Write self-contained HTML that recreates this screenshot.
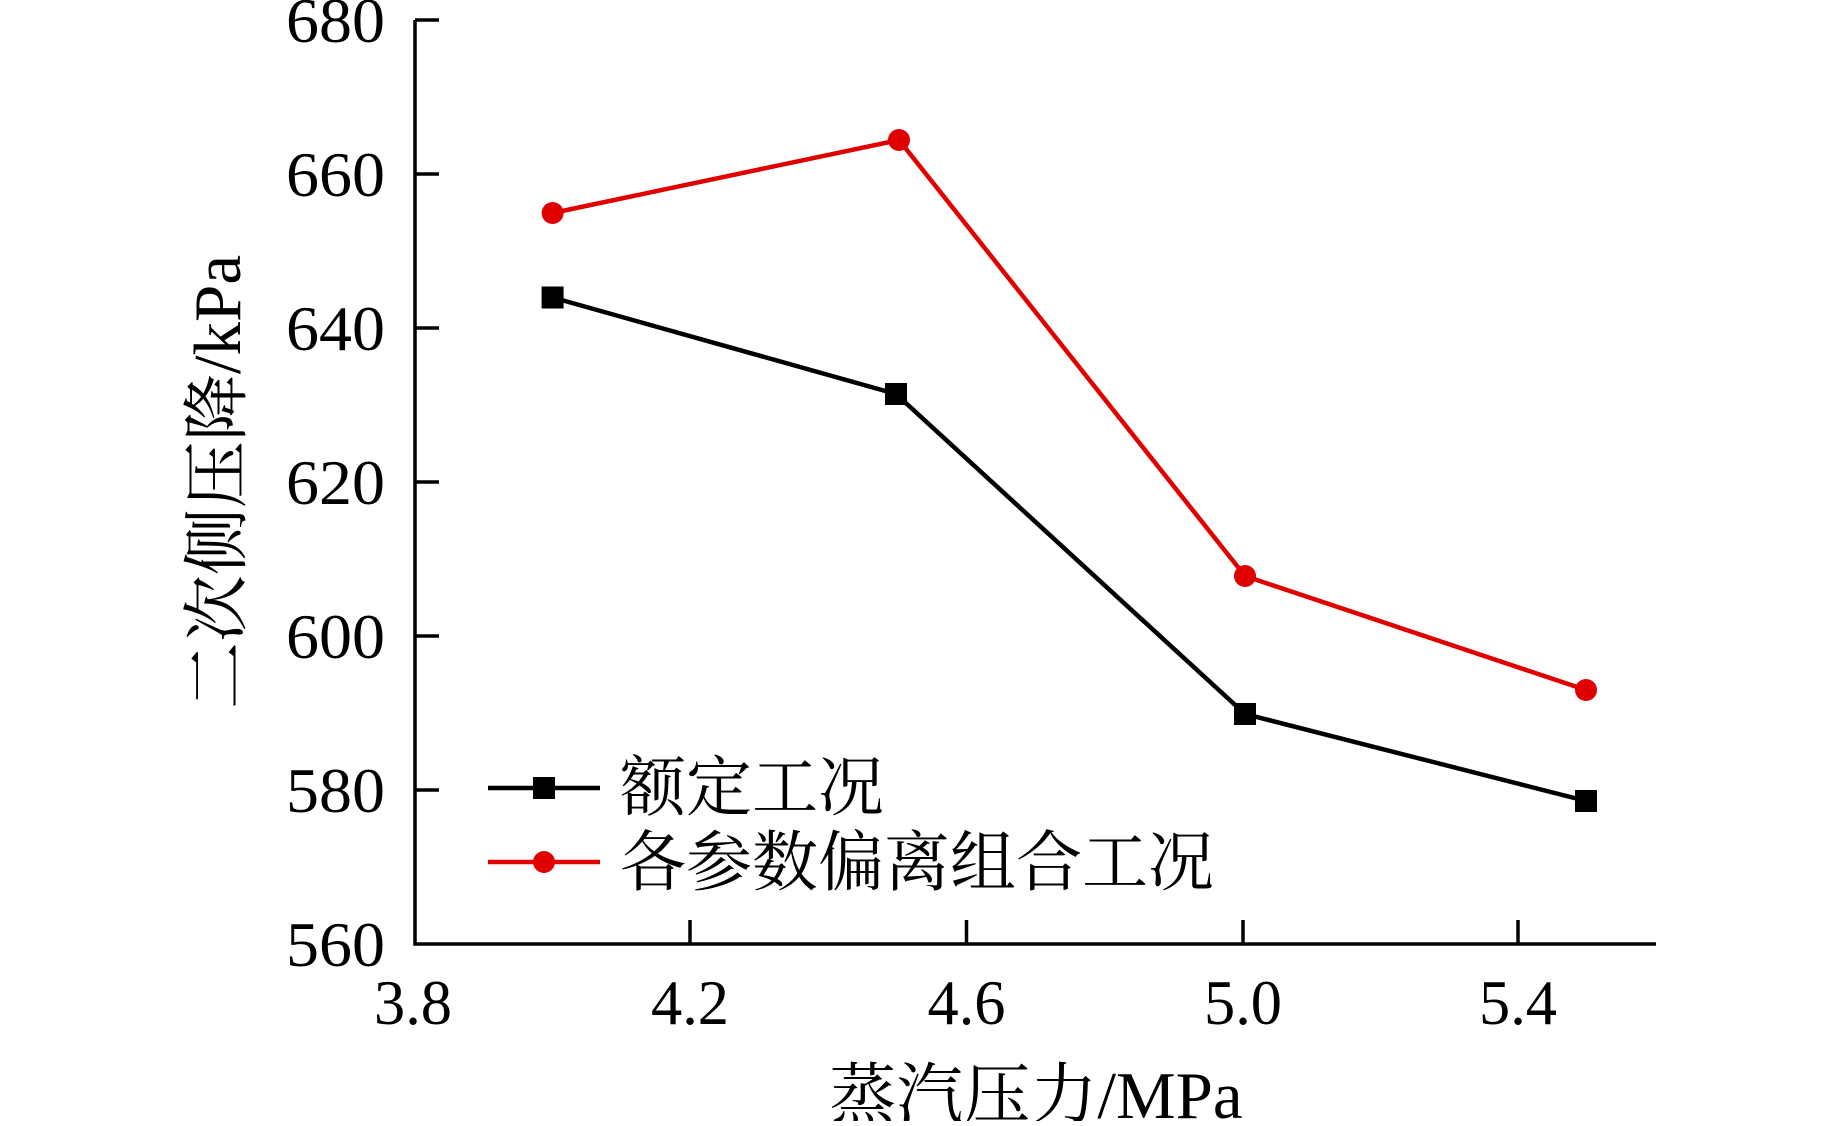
<!DOCTYPE html><html><head><meta charset="utf-8"><style>body{margin:0;background:#fff}svg text{font-family:"Liberation Serif","Noto Serif CJK SC",serif}</style></head><body>
<svg width="1843" height="1121" viewBox="0 0 1843 1121" xmlns="http://www.w3.org/2000/svg">
<g stroke="#000" stroke-width="3.5" fill="none">
<path d="M415 20V944H1656"/>
<path d="M415 20h24M415 174h24M415 328h24M415 482h24M415 636h24M415 790h24"/>
<path d="M690 944v-24M966.5 944v-24M1243 944v-24M1518 944v-24"/>
</g>
<g font-size="64" text-anchor="end" fill="#000">
<text x="385" y="42" textLength="99" lengthAdjust="spacingAndGlyphs">680</text><text x="385" y="196" textLength="99" lengthAdjust="spacingAndGlyphs">660</text><text x="385" y="350" textLength="99" lengthAdjust="spacingAndGlyphs">640</text><text x="385" y="504" textLength="99" lengthAdjust="spacingAndGlyphs">620</text><text x="385" y="658" textLength="99" lengthAdjust="spacingAndGlyphs">600</text><text x="385" y="812" textLength="99" lengthAdjust="spacingAndGlyphs">580</text><text x="385" y="966" textLength="99" lengthAdjust="spacingAndGlyphs">560</text>
</g>
<g font-size="64" text-anchor="middle" fill="#000">
<text x="413" y="1024" textLength="78" lengthAdjust="spacingAndGlyphs">3.8</text><text x="690" y="1024" textLength="78" lengthAdjust="spacingAndGlyphs">4.2</text><text x="966.5" y="1024" textLength="78" lengthAdjust="spacingAndGlyphs">4.6</text><text x="1243" y="1024" textLength="78" lengthAdjust="spacingAndGlyphs">5.0</text><text x="1518" y="1024" textLength="78" lengthAdjust="spacingAndGlyphs">5.4</text>
<text x="1036" y="1118" font-size="67">蒸汽压力/MPa</text>
<text transform="translate(240 482) rotate(-90)" font-size="67">二次侧压降/kPa</text>
</g>
<polyline points="552.6,297.5 896,394 1245,714 1586,801" fill="none" stroke="#000" stroke-width="4.5"/>
<g fill="#000"><rect x="541.6" y="286.5" width="22" height="22"/><rect x="885" y="383" width="22" height="22"/><rect x="1234" y="703" width="22" height="22"/><rect x="1575" y="790" width="22" height="22"/></g>
<polyline points="552.6,213 899,140 1245,576 1586,690" fill="none" stroke="#e00000" stroke-width="4.5"/>
<g fill="#e00000"><circle cx="552.6" cy="213" r="11"/><circle cx="899" cy="140" r="11"/><circle cx="1245" cy="576" r="11"/><circle cx="1586" cy="690" r="11"/></g>
<line x1="488" y1="788" x2="600" y2="788" stroke="#000" stroke-width="4.5"/><rect x="533" y="777" width="22" height="22" fill="#000"/>
<line x1="488" y1="862" x2="600" y2="862" stroke="#e00000" stroke-width="4.5"/><circle cx="544" cy="862" r="11" fill="#e00000"/>
<text x="620" y="810" font-size="66" fill="#000">额定工况</text>
<text x="620" y="885" font-size="66" fill="#000">各参数偏离组合工况</text>
</svg></body></html>
